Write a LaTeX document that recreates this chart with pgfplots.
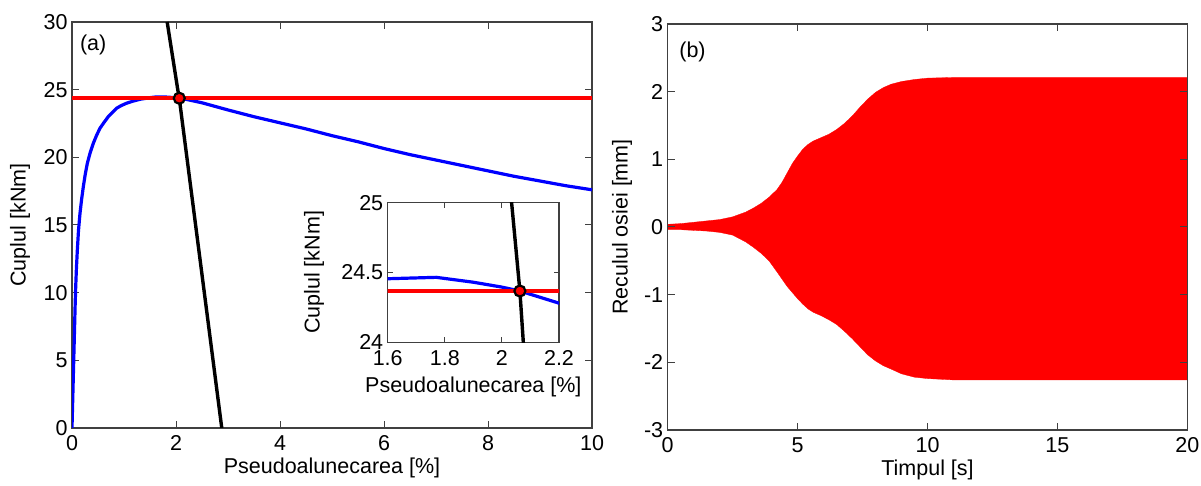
\documentclass[border=0pt]{standalone}
\usepackage{pgfplots}
\pgfplotsset{compat=1.18}
\usepackage{pgfplotstable}
\usepackage{fontspec}
\setmainfont{Liberation Sans}
\setsansfont{Liberation Sans}

\pgfplotstableread{
x y
0 0
0.01 1.5
0.02 3
0.03 4.5
0.04 6
0.05 7.5
0.06 9
0.07 10.3
0.085 11.8
0.103 13.16
0.125 14.6
0.154 15.87
0.185 16.9
0.218 17.84
0.255 18.75
0.295 19.56
0.35 20.35
0.41 21.04
0.47 21.6
0.538 22.15
0.62 22.6
0.699 23.01
0.78 23.33
0.859 23.63
0.95 23.83
1.05 24.0
1.18 24.16
1.31 24.29
1.5 24.41
1.6 24.455
1.77 24.465
1.9 24.43
2.0 24.395
2.063 24.367
2.2 24.28
2.5 24.03
3 23.5
3.5 23.0
4 22.55
4.5 22.1
5 21.6
5.5 21.15
6 20.65
6.5 20.2
7 19.8
7.5 19.4
8 19.0
8.5 18.6
9 18.25
9.5 17.9
10 17.6
}\torque

\pgfplotstableread{
x y
1.83 30
2.034 25
2.063 24.367
2.075 24
2.88 0
}\adhesion

\pgfplotstableread{
x y
0 24.367
10 24.367
}\load

\pgfplotstableread{
x y
0 0.04
0.5 0.05
1.0 0.07
1.5 0.09
2.0 0.11
2.5 0.15
3.0 0.22
3.3 0.28
3.6 0.35
3.9 0.44
4.2 0.55
4.4 0.66
4.6 0.80
4.8 0.94
5.0 1.05
5.2 1.15
5.4 1.22
5.6 1.27
5.9 1.32
6.2 1.37
6.5 1.44
6.8 1.53
7.1 1.64
7.4 1.77
7.7 1.89
8.0 1.99
8.3 2.06
8.6 2.11
9.0 2.15
9.5 2.18
10 2.20
11 2.21
20 2.21
20 -2.26
11 -2.26
10 -2.24
9.5 -2.22
9.0 -2.17
8.6 -2.10
8.3 -2.05
8.0 -1.98
7.7 -1.89
7.4 -1.77
7.1 -1.65
6.8 -1.54
6.5 -1.44
6.2 -1.37
5.9 -1.31
5.6 -1.26
5.4 -1.21
5.2 -1.14
5.0 -1.06
4.8 -0.97
4.6 -0.88
4.4 -0.77
4.2 -0.66
3.9 -0.50
3.6 -0.39
3.3 -0.30
3.0 -0.22
2.5 -0.12
2.0 -0.08
1.5 -0.06
1.0 -0.05
0.5 -0.04
0 -0.04
}\envelope

\pgfplotsset{
  every axis/.append style={
    font=\fontsize{21.5}{25}\selectfont,
    scale only axis,
    axis line style={black!75, line width=1.1pt},
    every tick/.style={black!75, line width=1.0pt},
    major tick length=7pt,
    tick align=inside,
    /pgf/number format/assume math mode=true,
    xticklabel style={yshift=-4pt},
    yticklabel style={xshift=-1pt},
  },
}

\begin{document}
\begin{tikzpicture}[x=1pt,y=1pt]
\useasboundingbox (0,0) rectangle (1201,486);

% Panel (a)
\begin{axis}[
  at={(72pt,58pt)}, anchor=south west,
  width=520pt, height=406pt,
  xmin=0, xmax=10, ymin=0, ymax=30,
  xtick={0,2,4,6,8,10}, ytick={0,5,10,15,20,25,30},
  xlabel={Pseudoalunecarea [\%]},
  ylabel={Cuplul [kNm]},
  xlabel style={at={(axis description cs:0.5,-0.0985)}, anchor=center},
  ylabel style={at={(axis description cs:-0.1,0.5)}, anchor=center},
]
\addplot[blue, line width=3.2pt] table[x=x,y=y] {\torque};
\addplot[red, line width=3.6pt] table[x=x,y=y] {\load};
\addplot[black, line width=3.4pt] table[x=x,y=y] {\adhesion};
\addplot[only marks, mark=*, mark size=5.5pt, mark options={fill=red, draw=black, line width=2.2pt}] coordinates {(2.063,24.367)};
\node[anchor=north west, inner sep=0pt] at (rel axis cs:0.015,0.968) {(a)};
\end{axis}

% Inset
\begin{axis}[
  at={(387.7pt,143.7pt)}, anchor=south west,
  width=171.3pt, height=139.6pt,
  xmin=1.6, xmax=2.2, ymin=24, ymax=25,
  xtick={1.6,1.8,2,2.2}, ytick={24,24.5,25},
  major tick length=5pt,
  axis background/.style={fill=white},
  xlabel={Pseudoalunecarea [\%]},
  ylabel={Cuplul [kNm]},
  xlabel style={at={(axis description cs:0.5,-0.318)}, anchor=center},
  ylabel style={at={(axis description cs:-0.43,0.5)}, anchor=center},
  yticklabel style={xshift=0pt},
  xticklabel style={yshift=-1pt},
]
\addplot[blue, line width=3.2pt] table[x=x,y=y] {\torque};
\addplot[red, line width=3.6pt] table[x=x,y=y] {\load};
\addplot[black, line width=3.4pt] table[x=x,y=y] {\adhesion};
\addplot[only marks, mark=*, mark size=5.5pt, mark options={fill=red, draw=black, line width=2.2pt}] coordinates {(2.063,24.367)};
\end{axis}

% Panel (b)
\begin{axis}[
  at={(667.7pt,56pt)}, anchor=south west,
  width=519.6pt, height=406pt,
  xmin=0, xmax=20, ymin=-3, ymax=3,
  xtick={0,5,10,15,20}, ytick={-3,-2,-1,0,1,2,3},
  yticklabels={-3,-2,-1,0,1,2,3},
  xlabel={Timpul [s]},
  ylabel={Reculul osiei [mm]},
  xlabel style={at={(axis description cs:0.5,-0.0985)}, anchor=center},
  ylabel style={at={(axis description cs:-0.088,0.5)}, anchor=center},
  axis on top,
]
\addplot[fill=red, draw=red, line width=0.3pt] table[x=x,y=y] {\envelope} -- cycle;
\node[anchor=north west, inner sep=0pt] at (rel axis cs:0.022,0.956) {(b)};
\end{axis}
\end{tikzpicture}
\end{document}
